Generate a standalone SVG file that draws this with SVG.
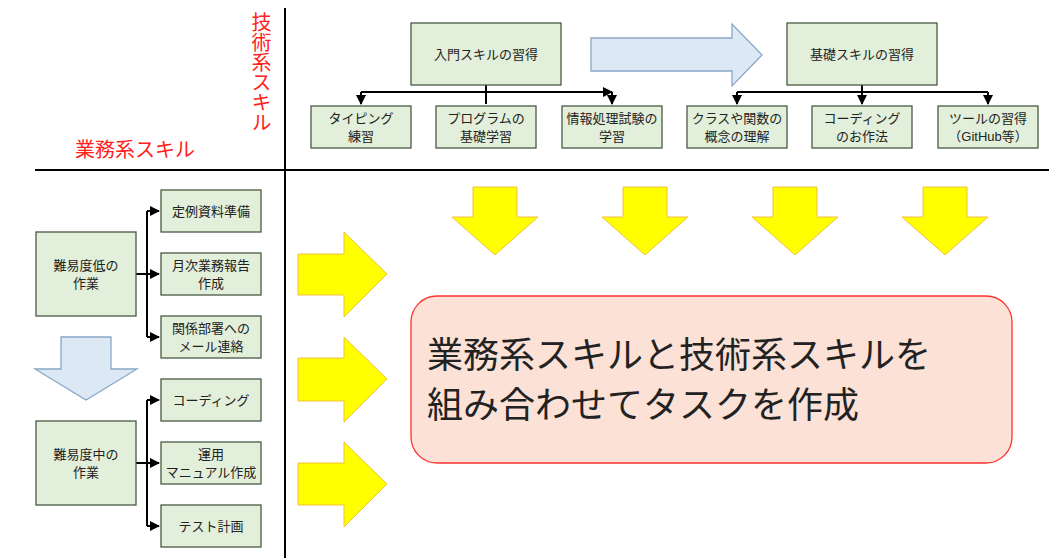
<svg xmlns="http://www.w3.org/2000/svg" width="1049" height="558" viewBox="0 0 1049 558">
<defs>
<style>
.n{fill:#e2efda;stroke:#4a5a44;stroke-width:1.3}
text{font-family:"Liberation Sans","Noto Sans CJK JP",sans-serif;font-size:13px;fill:#222;text-anchor:middle}
.c{stroke:#000;stroke-width:2;fill:none}
.y{fill:#ffff00;stroke:#f0c040;stroke-width:1}
.b{fill:#dce9f5;stroke:#8aa6c8;stroke-width:1.3}
.r{fill:#ff2020;font-size:20px}
</style>
<marker id="a" viewBox="0 0 10 10" refX="9" refY="5" markerWidth="5" markerHeight="5" orient="auto"><path d="M0,0L10,5L0,10z" fill="#000"/></marker>
</defs>
<rect width="1049" height="558" fill="#fff"/>
<line x1="285" y1="8" x2="285" y2="558" stroke="#000" stroke-width="2"/>
<line x1="35" y1="170" x2="1049" y2="170" stroke="#000" stroke-width="2"/>
<text class="r" x="260" y="12" style="writing-mode:vertical-rl;text-anchor:start">技術系スキル</text>
<text class="r" x="135" y="157">業務系スキル</text>
<path class="b" d="M591,38H732V24L762,55L732,86V71H591Z"/>
<path class="b" d="M61,337H111V369H137L86,400L35,369H61Z"/>
<g id="connectors">
<path class="c" d="M486,85V104M361,92H612" marker-end="url(#a)"/>
<path class="c" d="M361,92V104" marker-end="url(#a)"/><path class="c" d="M612,92V104" marker-end="url(#a)"/>
<path class="c" d="M862,85V104" marker-end="url(#a)"/>
<path class="c" d="M737,92H988"/>
<path class="c" d="M737,92V104" marker-end="url(#a)"/><path class="c" d="M988,92V104" marker-end="url(#a)"/>
<path class="c" d="M136,274H159"/>
<path class="c" d="M147,211V337"/>
<path class="c" d="M147,211H159" marker-end="url(#a)"/><path class="c" d="M147,337H159" marker-end="url(#a)"/><path class="c" d="M147,274H159" marker-end="url(#a)"/>
<path class="c" d="M136,463H159"/>
<path class="c" d="M147,400V526"/>
<path class="c" d="M147,400H159" marker-end="url(#a)"/><path class="c" d="M147,526H159" marker-end="url(#a)"/><path class="c" d="M147,463H159" marker-end="url(#a)"/>
</g>
<g id="n1"><rect class="n" x="411" y="23" width="150" height="62"/><text x="486" y="59">入門スキルの習得</text></g>
<g id="n2"><rect class="n" x="787" y="23" width="150" height="62"/><text x="862" y="59">基礎スキルの習得</text></g>
<g id="t1"><rect class="n" x="311" y="106" width="100" height="42"/><text x="361" y="123">タイピング</text><text x="361" y="141">練習</text></g>
<g id="t2"><rect class="n" x="436" y="106" width="100" height="42"/><text x="486" y="123">プログラムの</text><text x="486" y="141">基礎学習</text></g>
<g id="t3"><rect class="n" x="562" y="106" width="100" height="42"/><text x="612" y="123">情報処理試験の</text><text x="612" y="141">学習</text></g>
<g id="t4"><rect class="n" x="687" y="106" width="100" height="42"/><text x="737" y="123">クラスや関数の</text><text x="737" y="141">概念の理解</text></g>
<g id="t5"><rect class="n" x="812" y="106" width="100" height="42"/><text x="862" y="123">コーディング</text><text x="862" y="141">のお作法</text></g>
<g id="t6"><rect class="n" x="938" y="106" width="100" height="42"/><text x="988" y="123">ツールの習得</text><text x="988" y="141">（GitHub等）</text></g>
<g id="l1"><rect class="n" x="36" y="232" width="100" height="84"/><text x="86" y="270">難易度低の</text><text x="86" y="288">作業</text></g>
<g id="l2"><rect class="n" x="36" y="421" width="100" height="84"/><text x="86" y="459">難易度中の</text><text x="86" y="477">作業</text></g>
<g id="s1"><rect class="n" x="161" y="190" width="100" height="42"/><text x="211" y="216">定例資料準備</text></g>
<g id="s2"><rect class="n" x="161" y="253" width="100" height="42"/><text x="211" y="270">月次業務報告</text><text x="211" y="288">作成</text></g>
<g id="s3"><rect class="n" x="161" y="316" width="100" height="42"/><text x="211" y="333">関係部署への</text><text x="211" y="351">メール連絡</text></g>
<g id="s4"><rect class="n" x="161" y="379" width="100" height="42"/><text x="211" y="405">コーディング</text></g>
<g id="s5"><rect class="n" x="161" y="442" width="100" height="42"/><text x="211" y="459">運用</text><text x="211" y="477">マニュアル作成</text></g>
<g id="s6"><rect class="n" x="161" y="505" width="100" height="42"/><text x="211" y="531">テスト計画</text></g>
<path class="y" d="M298,254H344V232L387,274L344,317V295H298Z"/>
<path class="y" d="M298,358H344V337L387,379L344,422V401H298Z"/>
<path class="y" d="M298,463H344V442L387,484L344,527V505H298Z"/>
<path class="y" d="M473,187H517V217H538L495,255L452,217H473Z"/>
<path class="y" d="M623,187H667V217H688L645,255L602,217H623Z"/>
<path class="y" d="M773,187H817V217H838L795,255L752,217H773Z"/>
<path class="y" d="M923,187H967V217H988L945,255L902,217H923Z"/>
<g id="main"><rect x="411" y="296" width="601" height="167" rx="26" fill="#fbe1d6" stroke="#ff3030" stroke-width="1.3"/>
<text x="427" y="368" style="font-size:36px;text-anchor:start">業務系スキルと技術系スキルを</text>
<text x="427" y="418" style="font-size:36px;text-anchor:start">組み合わせてタスクを作成</text></g>
</svg>
